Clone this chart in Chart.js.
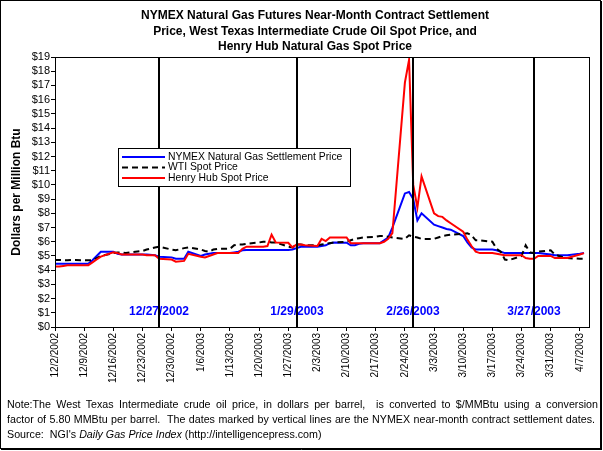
<!DOCTYPE html>
<html>
<head>
<meta charset="utf-8">
<script src="https://cdn.jsdelivr.net/npm/chart.js@4.4.0/dist/chart.umd.min.js"></script>
<style>
  html, body { margin: 0; padding: 0; background: #fff; }
  #wrap { position: relative; width: 603px; height: 451px; overflow: hidden; }
  #c { position: absolute; left: 0; top: 0; }
  #note { position: absolute; left: 7px; top: 397px; width: 591px; font: 10.7px "Liberation Sans", Arial, sans-serif; line-height: 15px; color: #000; }
  #note .j { text-align: justify; text-align-last: justify; white-space: nowrap; }
</style>
</head>
<body>
<div id="wrap">
  <canvas id="c" width="603" height="451"></canvas>
  <div id="note">
    <div class="j">Note:The West Texas Intermediate crude oil price, in dollars per barrel,&nbsp; is converted to $/MMBtu using a conversion</div>
    <div class="j" style="width:588px">factor of 5.80 MMBtu per barrel.&nbsp; The dates marked by vertical lines are the NYMEX near-month contract settlement dates.</div>
    <div>Source:&nbsp; NGI's <i>Daily Gas Price Index</i> (http://intelligencepress.com)</div>
  </div>
</div>
<script>
// trading days shown in the chart
const tradeDates = [
  '12/2/2002','12/3/2002','12/4/2002','12/5/2002','12/6/2002',
  '12/9/2002','12/10/2002','12/11/2002','12/12/2002','12/13/2002',
  '12/16/2002','12/17/2002','12/18/2002','12/19/2002','12/20/2002',
  '12/23/2002','12/24/2002','12/26/2002','12/27/2002',
  '12/30/2002','12/31/2002','1/2/2003','1/3/2003',
  '1/6/2003','1/7/2003','1/8/2003','1/9/2003','1/10/2003',
  '1/13/2003','1/14/2003','1/15/2003','1/16/2003','1/17/2003',
  '1/20/2003','1/21/2003','1/22/2003','1/23/2003','1/24/2003',
  '1/27/2003','1/28/2003','1/29/2003','1/30/2003','1/31/2003',
  '2/3/2003','2/4/2003','2/5/2003','2/6/2003','2/7/2003',
  '2/10/2003','2/11/2003','2/12/2003','2/13/2003','2/14/2003',
  '2/17/2003','2/18/2003','2/19/2003','2/20/2003','2/21/2003',
  '2/24/2003','2/25/2003','2/26/2003','2/27/2003','2/28/2003',
  '3/3/2003','3/4/2003','3/5/2003','3/6/2003','3/7/2003',
  '3/10/2003','3/11/2003','3/12/2003','3/13/2003','3/14/2003',
  '3/17/2003','3/18/2003','3/19/2003','3/20/2003','3/21/2003',
  '3/24/2003','3/25/2003','3/26/2003','3/27/2003','3/28/2003',
  '3/31/2003','4/1/2003','4/2/2003','4/3/2003','4/4/2003',
  '4/7/2003','4/8/2003'
];

const nymex = [
  4.45, 4.45, 4.45, 4.45, 4.45,
  4.45, 4.45, 4.7, 5.0, 5.3,
  5.3, 5.15, 5.1, 5.1, 5.1,
  5.1, 5.1, 5.05, 4.95,
  4.9, 4.8, 4.8, 5.3,
  5.0, 5.1, 5.15, 5.2, 5.2,
  5.2, 5.25, 5.3, 5.4, 5.42,
  5.42, 5.42, 5.42, 5.42, 5.42,
  5.42, 5.45, 5.55, 5.65, 5.65,
  5.65, 5.7, 5.75, 5.9, 5.95,
  5.93, 5.75, 5.75, 5.85, 5.9,
  5.9, 5.9, 6.1, 6.3, 7.0,
  9.4, 9.5, 9.0, 7.5, 8.0,
  7.2, 7.1, 7.0, 6.9, 6.85,
  6.4, 5.95, 5.6, 5.45, 5.45,
  5.45, 5.4, 5.3, 5.2, 5.2,
  5.2, 5.2, 5.2, 5.2, 5.2,
  5.1, 5.05, 5.05, 5.05, 5.05,
  5.15, 5.2
];

const wti = [
  4.72, 4.72, 4.7, 4.7, 4.72,
  4.7, 4.7, 4.7, 4.85, 5.0,
  5.2, 5.25, 5.25, 5.2, 5.25,
  5.35, 5.45, 5.6, 5.65,
  5.45, 5.4, 5.55, 5.6,
  5.45, 5.35, 5.3, 5.45, 5.5,
  5.5, 5.75, 5.8, 5.8, 5.85,
  5.95, 6.0, 6.0, 5.95, 5.95,
  5.65, 5.6, 5.8, 5.8, 5.75,
  5.75, 5.8, 5.85, 5.9, 5.95,
  6.0, 6.1, 6.2, 6.25, 6.3,
  6.35, 6.4, 6.4, 6.35, 6.3,
  6.2, 6.45, 6.35, 6.3, 6.2,
  6.2, 6.3, 6.4, 6.45, 6.5,
  6.55, 6.6, 6.45, 6.1, 6.1,
  6.0, 5.5, 5.3, 4.75, 4.7,
  5.0, 5.75, 5.25, 5.2, 5.3,
  5.4, 5.1, 5.0, 4.9, 4.85,
  4.8, 4.8
];

const henryHub = [
  4.25, 4.25, 4.3, 4.35, 4.35,
  4.35, 4.35, 4.55, 4.75, 4.95,
  5.25, 5.2, 5.1, 5.1, 5.1,
  5.1, 5.05, 5.05, 4.8,
  4.75, 4.6, 4.65, 5.15,
  4.95, 4.9, 5.0, 5.1, 5.2,
  5.2, 5.2, 5.2, 5.5, 5.65,
  5.65, 5.65, 5.7, 6.5, 5.95,
  5.93, 5.6, 5.8, 5.8, 5.75,
  5.7, 6.2, 6.05, 6.3, 6.3,
  6.3, 5.9, 5.9, 5.9, 5.9,
  5.9, 5.9, 6.0, 6.2, 6.6,
  17.2, 18.8, 10.0, 8.4, 10.6,
  8.0, 7.8, 7.75, 7.5, 7.3,
  6.7, 6.15, 5.7, 5.3, 5.2,
  5.2, 5.15, 5.1, 5.05, 5.05,
  5.05, 4.85, 4.8, 4.8, 5.0,
  5.0, 4.85, 4.85, 4.85, 4.85,
  5.1, 5.2
];

const tickLabels = [
  '12/2/2002','12/9/2002','12/16/2002','12/23/2002','12/30/2002',
  '1/6/2003','1/13/2003','1/20/2003','1/27/2003','2/3/2003',
  '2/10/2003','2/17/2003','2/24/2003','3/3/2003','3/10/2003',
  '3/17/2003','3/24/2003','3/31/2003','4/7/2003'
];

const settleDates = ['12/27/2002','1/29/2003','2/26/2003','3/27/2003'];

const seriesNames = ['NYMEX Natural Gas Settlement Price', 'WTI Spot Price', 'Henry Hub Spot Price'];
const titleLines = [
  'NYMEX Natural Gas Futures Near-Month Contract Settlement',
  'Price, West Texas Intermediate Crude Oil Spot Price, and',
  'Henry Hub Natural Gas Spot Price'
];

// days since 12/2/2002, used as the x value
function dayOf(s) {
  const [m, d, y] = s.split('/').map(Number);
  return (Date.UTC(y, m - 1, d) - Date.UTC(2002, 11, 2)) / 864e5;
}
const xDays = tradeDates.map(dayOf);
const tickDays = tickLabels.map(dayOf);
const settleDays = settleDates.map(dayOf);

function pts(vals) {
  return vals.map((v, i) => ({ x: xDays[i], y: v }));
}

const FONT = '"Liberation Sans", Arial, sans-serif';
Chart.defaults.font.family = FONT;
Chart.defaults.color = '#000';

const extras = {
  id: 'extras',
  afterDatasetsDraw(chart) {
    const { ctx, chartArea: a, scales: { x, y } } = chart;
    ctx.save();
    // settlement date labels + lines
    ctx.font = 'bold 12px ' + FONT;
    ctx.textAlign = 'center';
    ctx.textBaseline = 'middle';
    settleDays.forEach((d, i) => {
      const px = Math.round(x.getPixelForValue(d));
      ctx.fillStyle = '#0000ff';
      ctx.fillText(settleDates[i], px, y.getPixelForValue(1.05));
      ctx.strokeStyle = '#000';
      ctx.lineWidth = 2;
      ctx.beginPath();
      ctx.moveTo(px, a.top);
      ctx.lineTo(px, a.bottom);
      ctx.stroke();
    });
    // plot border
    ctx.lineWidth = 1;
    ctx.strokeStyle = '#000';
    ctx.strokeRect(a.left + 0.5, a.top + 0.5, a.right - a.left, a.bottom - a.top);

    // legend
    const lx = 118, ly = 148, lw = 232, lh = 38;
    ctx.fillStyle = '#fff';
    ctx.fillRect(lx, ly, lw, lh);
    ctx.strokeRect(lx + 0.5, ly + 0.5, lw, lh);
    ctx.font = '10.4px ' + FONT;
    ctx.textAlign = 'left';
    chart.data.datasets.forEach((ds, i) => {
      const yy = ly + 9 + i * 10.5;
      ctx.strokeStyle = ds.borderColor;
      ctx.lineWidth = 2;
      ctx.setLineDash(ds.borderDash || []);
      ctx.beginPath();
      ctx.moveTo(lx + 4, yy);
      ctx.lineTo(lx + 47, yy);
      ctx.stroke();
      ctx.setLineDash([]);
      ctx.fillStyle = '#000';
      ctx.fillText(ds.label, lx + 50, yy);
    });
    ctx.restore();
  },
  afterDraw(chart) {
    const { ctx } = chart;
    ctx.save();
    ctx.fillStyle = '#000';
    ctx.font = 'bold 12px ' + FONT;
    ctx.textAlign = 'center';
    ctx.textBaseline = 'middle';
    titleLines.forEach((t, i) => ctx.fillText(t, 315, 16 + i * 15.5));
    // outer frame
    ctx.strokeStyle = '#000';
    ctx.lineWidth = 1;
    ctx.strokeRect(0.5, 0.5, 600, 448);
    ctx.beginPath();
    ctx.moveTo(601.5, 1); ctx.lineTo(601.5, 450);
    ctx.moveTo(1, 449.5); ctx.lineTo(602, 449.5);
    ctx.stroke();
    ctx.restore();
  }
};

new Chart(document.getElementById('c'), {
  type: 'line',
  data: {
    datasets: [
      { label: seriesNames[0], data: pts(nymex), borderColor: '#0000ff', borderWidth: 2, order: 3 },
      { label: seriesNames[1], data: pts(wti), borderColor: '#000000', borderWidth: 2, borderDash: [6, 4], order: 2 },
      { label: seriesNames[2], data: pts(henryHub), borderColor: '#ff0000', borderWidth: 2, order: 1 }
    ]
  },
  options: {
    responsive: false,
    animation: false,
    devicePixelRatio: 1,
    elements: { point: { radius: 0 }, line: { tension: 0 } },
    layout: { padding: { top: 57, right: 14, left: 0, bottom: 0 } },
    plugins: { legend: { display: false }, tooltip: { enabled: false }, title: { display: false } },
    scales: {
      x: {
        type: 'linear',
        min: 0,
        max: 128.2,
        afterBuildTicks: (s) => { s.ticks = tickDays.map(v => ({ value: v })); },
        afterFit: (s) => { s.height = 124; },
        ticks: {
          autoSkip: false,
          minRotation: 90,
          maxRotation: 90,
          padding: 2,
          font: { size: 10 },
          callback: (v, i) => tickLabels[i]
        },
        grid: { drawOnChartArea: false, drawTicks: true, tickLength: 4, color: '#000' },
        border: { color: '#000', width: 1 }
      },
      y: {
        min: 0,
        max: 19,
        afterFit: (s) => { s.width = 55; },
        ticks: { stepSize: 1, autoSkip: false, padding: 1, font: { size: 11 }, callback: v => '$' + v },
        grid: { drawOnChartArea: false, drawTicks: true, tickLength: 4, color: '#000' },
        border: { color: '#000', width: 1 },
        title: { display: true, text: 'Dollars per Million Btu', font: { size: 12, weight: 'bold' }, padding: { top: 9, bottom: 0 } }
      }
    }
  },
  plugins: [extras]
});
</script>
</body>
</html>
